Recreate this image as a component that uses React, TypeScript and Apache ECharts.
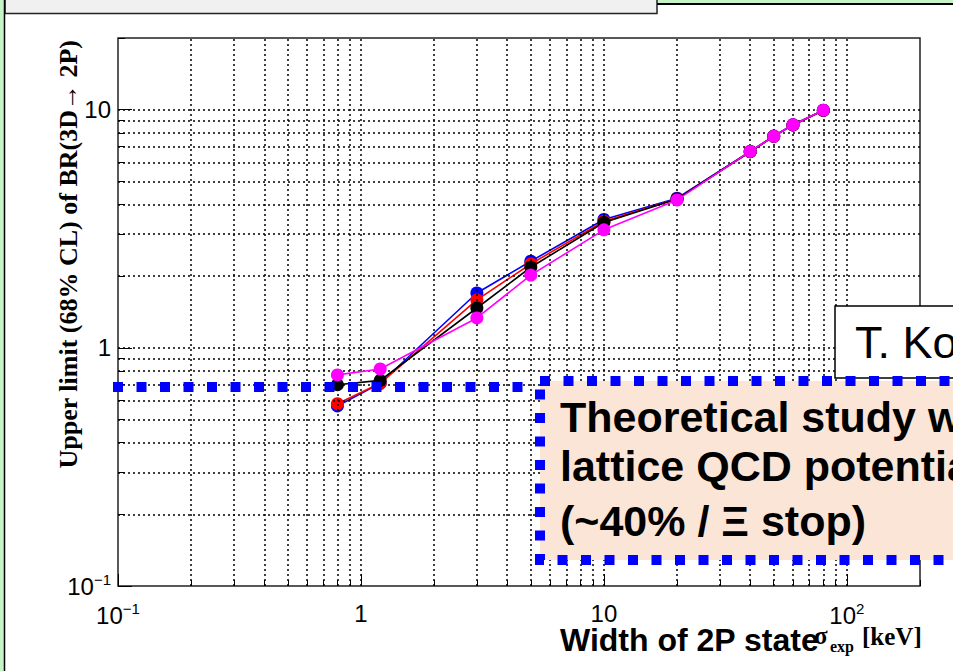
import React, { useEffect, useRef } from 'react';
import * as echarts from 'echarts';

// ---- data ----
const widths = [0.8, 1.2, 3, 5, 10, 20, 40, 50, 60, 80];
const limitBlue = [0.57, 0.71, 1.7, 2.31, 3.46, 4.25, 6.68, 7.75, 8.65, 9.95];
const limitRed = [0.583, 0.71, 1.59, 2.25, 3.4, 4.22, 6.66, 7.73, 8.63, 9.93];
const limitBlack = [0.7, 0.73, 1.47, 2.18, 3.36, 4.22, 6.66, 7.73, 8.63, 9.93];
const limitMagenta = [0.77, 0.815, 1.335, 2.02, 3.13, 4.18, 6.68, 7.73, 8.65, 9.95];

const xMajorTicks = [0.1, 1, 10, 100];
const xMinorTicks = [0.2, 0.3, 0.4, 0.5, 0.6, 0.7, 0.8, 0.9, 2, 3, 4, 5, 6, 7, 8, 9, 20, 30, 40, 50, 60, 70, 80, 90, 200];
const yMajorTicks = [0.1, 1, 10];
const yMinorTicks = [0.2, 0.3, 0.4, 0.5, 0.6, 0.7, 0.8, 0.9, 2, 3, 4, 5, 6, 7, 8, 9, 20];
const xGridLines = [0.2, 0.3, 0.4, 0.5, 0.6, 0.7, 0.8, 0.9, 1, 2, 3, 4, 5, 6, 7, 8, 9, 10, 20, 30, 40, 50, 60, 70, 80, 90, 100];
const yGridLines = [0.2, 0.3, 0.4, 0.5, 0.6, 0.7, 0.8, 0.9, 1, 2, 3, 4, 5, 6, 7, 8, 9, 10];

const SANS = "'Liberation Sans', Arial, sans-serif";
const SERIF = "'Liberation Serif', 'Times New Roman', serif";

const powLabel = (v: number) => {
  const e = Math.round(Math.log10(v));
  if (e === 0) return '{b|1}';
  if (e === 1) return '{b|10}';
  return `{b|10}{s|${e < 0 ? '\u2212' + Math.abs(e) : e}}`;
};

const labelRich = {
  b: { fontSize: 24, fontFamily: SANS, color: '#000' },
  s: { fontSize: 15, fontFamily: SANS, color: '#000', padding: [0, 0, 13, 0] },
};

// baseline -> y for verticalAlign 'middle'
const mid = (baseline: number, size: number) => baseline - 0.35 * size;

export default function App() {
  const ref = useRef<HTMLDivElement>(null);
  useEffect(() => {
    if (!ref.current) return;
    const chart = echarts.init(ref.current, null, { renderer: 'svg' });
    const mkSeries = (name: string, color: string, vals: number[], z: number) => ({
      name,
      type: 'line',
      data: widths.map((w, i) => [w, vals[i]]),
      symbol: 'circle',
      symbolSize: 13,
      itemStyle: { color },
      lineStyle: { color, width: 1.6 },
      z,
    });
    const gridLineStyle = { color: '#000', width: 1.5, type: [2, 3] as any };
    const textEl = (text: string, x: number, baseline: number, size: number, weight: string, family: string, z = 63) => ({
      type: 'text', z, x, y: mid(baseline, size),
      style: { text, font: `${weight} ${size}px ${family}`, fill: '#000', align: 'left', verticalAlign: 'middle' },
    });
    chart.setOption({
      animation: false,
      backgroundColor: '#fff',
      grid: {
        left: 118, top: 38, right: 33, bottom: 85,
        show: true, borderColor: '#222', borderWidth: 1.5, backgroundColor: 'transparent',
      },
      xAxis: [
        {
          type: 'log', logBase: 10, min: 0.1, max: 200, position: 'bottom',
          axisLine: { show: false },
          splitLine: { show: false },
          axisTick: { show: true, inside: true, length: 12, customValues: xMajorTicks, lineStyle: { color: '#000', width: 1 } },
          axisLabel: { show: true, customValues: xMajorTicks, margin: 15, formatter: powLabel, rich: labelRich },
        },
        {
          type: 'log', logBase: 10, min: 0.1, max: 200, position: 'bottom',
          axisLine: { show: false },
          splitLine: { show: false },
          axisTick: { show: true, inside: true, length: 6, customValues: xMinorTicks, lineStyle: { color: '#000', width: 1 } },
          axisLabel: { show: false },
        },
      ],
      yAxis: [
        {
          type: 'log', logBase: 10, min: 0.1, max: 20, position: 'left',
          axisLine: { show: false },
          splitLine: { show: false },
          axisTick: { show: true, inside: true, length: 14, customValues: yMajorTicks, lineStyle: { color: '#000', width: 1 } },
          axisLabel: { show: true, customValues: yMajorTicks, margin: 7, formatter: powLabel, rich: labelRich },
        },
        {
          type: 'log', logBase: 10, min: 0.1, max: 20, position: 'left',
          axisLine: { show: false },
          splitLine: { show: false },
          axisTick: { show: true, inside: true, length: 7, customValues: yMinorTicks, lineStyle: { color: '#000', width: 1 } },
          axisLabel: { show: false },
        },
      ],
      series: [
        {
          name: 'grid',
          type: 'line',
          data: [],
          z: 1,
          silent: true,
          markLine: {
            silent: true,
            symbol: ['none', 'none'],
            label: { show: false },
            lineStyle: gridLineStyle,
            emphasis: { disabled: true },
            data: [
              ...xGridLines.map((v) => ({ xAxis: v })),
              ...yGridLines.map((v) => ({ yAxis: v })),
            ],
          },
        },
        mkSeries('blue', '#0000ff', limitBlue, 3),
        mkSeries('red', '#ff0000', limitRed, 4),
        mkSeries('black', '#000000', limitBlack, 5),
        mkSeries('magenta', '#ff00ff', limitMagenta, 6),
      ],
      graphic: [
        // slide frame: green strip left, green strip top right
        { type: 'rect', shape: { x: 0, y: 0, width: 4, height: 671 }, style: { fill: '#c8f2c8' }, z: 100 },
        { type: 'line', shape: { x1: 4.5, y1: 0, x2: 4.5, y2: 671 }, style: { stroke: '#000', lineWidth: 1.5 }, z: 101 },
        { type: 'rect', shape: { x: 657, y: 0, width: 300, height: 3.5 }, style: { fill: '#c8f2c8' }, z: 100 },
        { type: 'line', shape: { x1: 657, y1: 4, x2: 953, y2: 4 }, style: { stroke: '#000', lineWidth: 2 }, z: 101 },
        // grey title box at the top
        { type: 'rect', shape: { x: 5, y: -10, width: 652, height: 23.5 }, style: { fill: '#f0f0f0', stroke: '#222', lineWidth: 1.5 }, z: 100 },
        // y-axis title
        {
          type: 'text', x: 68, y: 40, rotation: Math.PI / 2, z: 50,
          style: { text: 'Upper limit (68% CL) of BR(3D\u2192 2P)', font: `bold 26px ${SERIF}`, fill: '#000', align: 'right', verticalAlign: 'middle' },
        },
        // x-axis title (slide text + ROOT title)
        textEl('Width of 2P state', 560, 651, 32, 'bold', SANS, 50),
        textEl('\u03c3', 814, 644, 25, 'bold', SERIF, 51),
        textEl('exp', 830, 652, 16, 'bold', SERIF, 51),
        textEl('[keV]', 862, 645, 25, 'bold', SERIF, 51),
        // blue dotted threshold line
        {
          type: 'line', z: 60,
          shape: { x1: 113, y1: 387, x2: 530, y2: 387 },
          style: { stroke: '#0000ff', lineWidth: 10, lineDash: [10, 13.5] },
        },
        // T. Ko box
        { type: 'rect', z: 60, shape: { x: 835, y: 306, width: 200, height: 72 }, style: { fill: '#fff', stroke: '#000', lineWidth: 1.5 } },
        textEl('T. Ko', 855, 358, 45, 'normal', SANS, 61),
        // theoretical study box
        {
          type: 'rect', z: 62,
          shape: { x: 540, y: 381, width: 500, height: 179 },
          style: { fill: '#fbe5d6', stroke: '#0000ff', lineWidth: 10, lineDash: [10, 13.5] },
        },
        textEl('Theoretical study w', 560, 432, 43, 'bold', SANS),
        textEl('lattice QCD potentia', 560, 481, 43, 'bold', SANS),
        textEl('(~40% / \u039e stop)', 560, 536, 43, 'bold', SANS),
      ],
    });
    return () => chart.dispose();
  }, []);
  return <div ref={ref} style={{ position: 'fixed', left: 0, top: 0, width: 953, height: 671 }} />;
}
